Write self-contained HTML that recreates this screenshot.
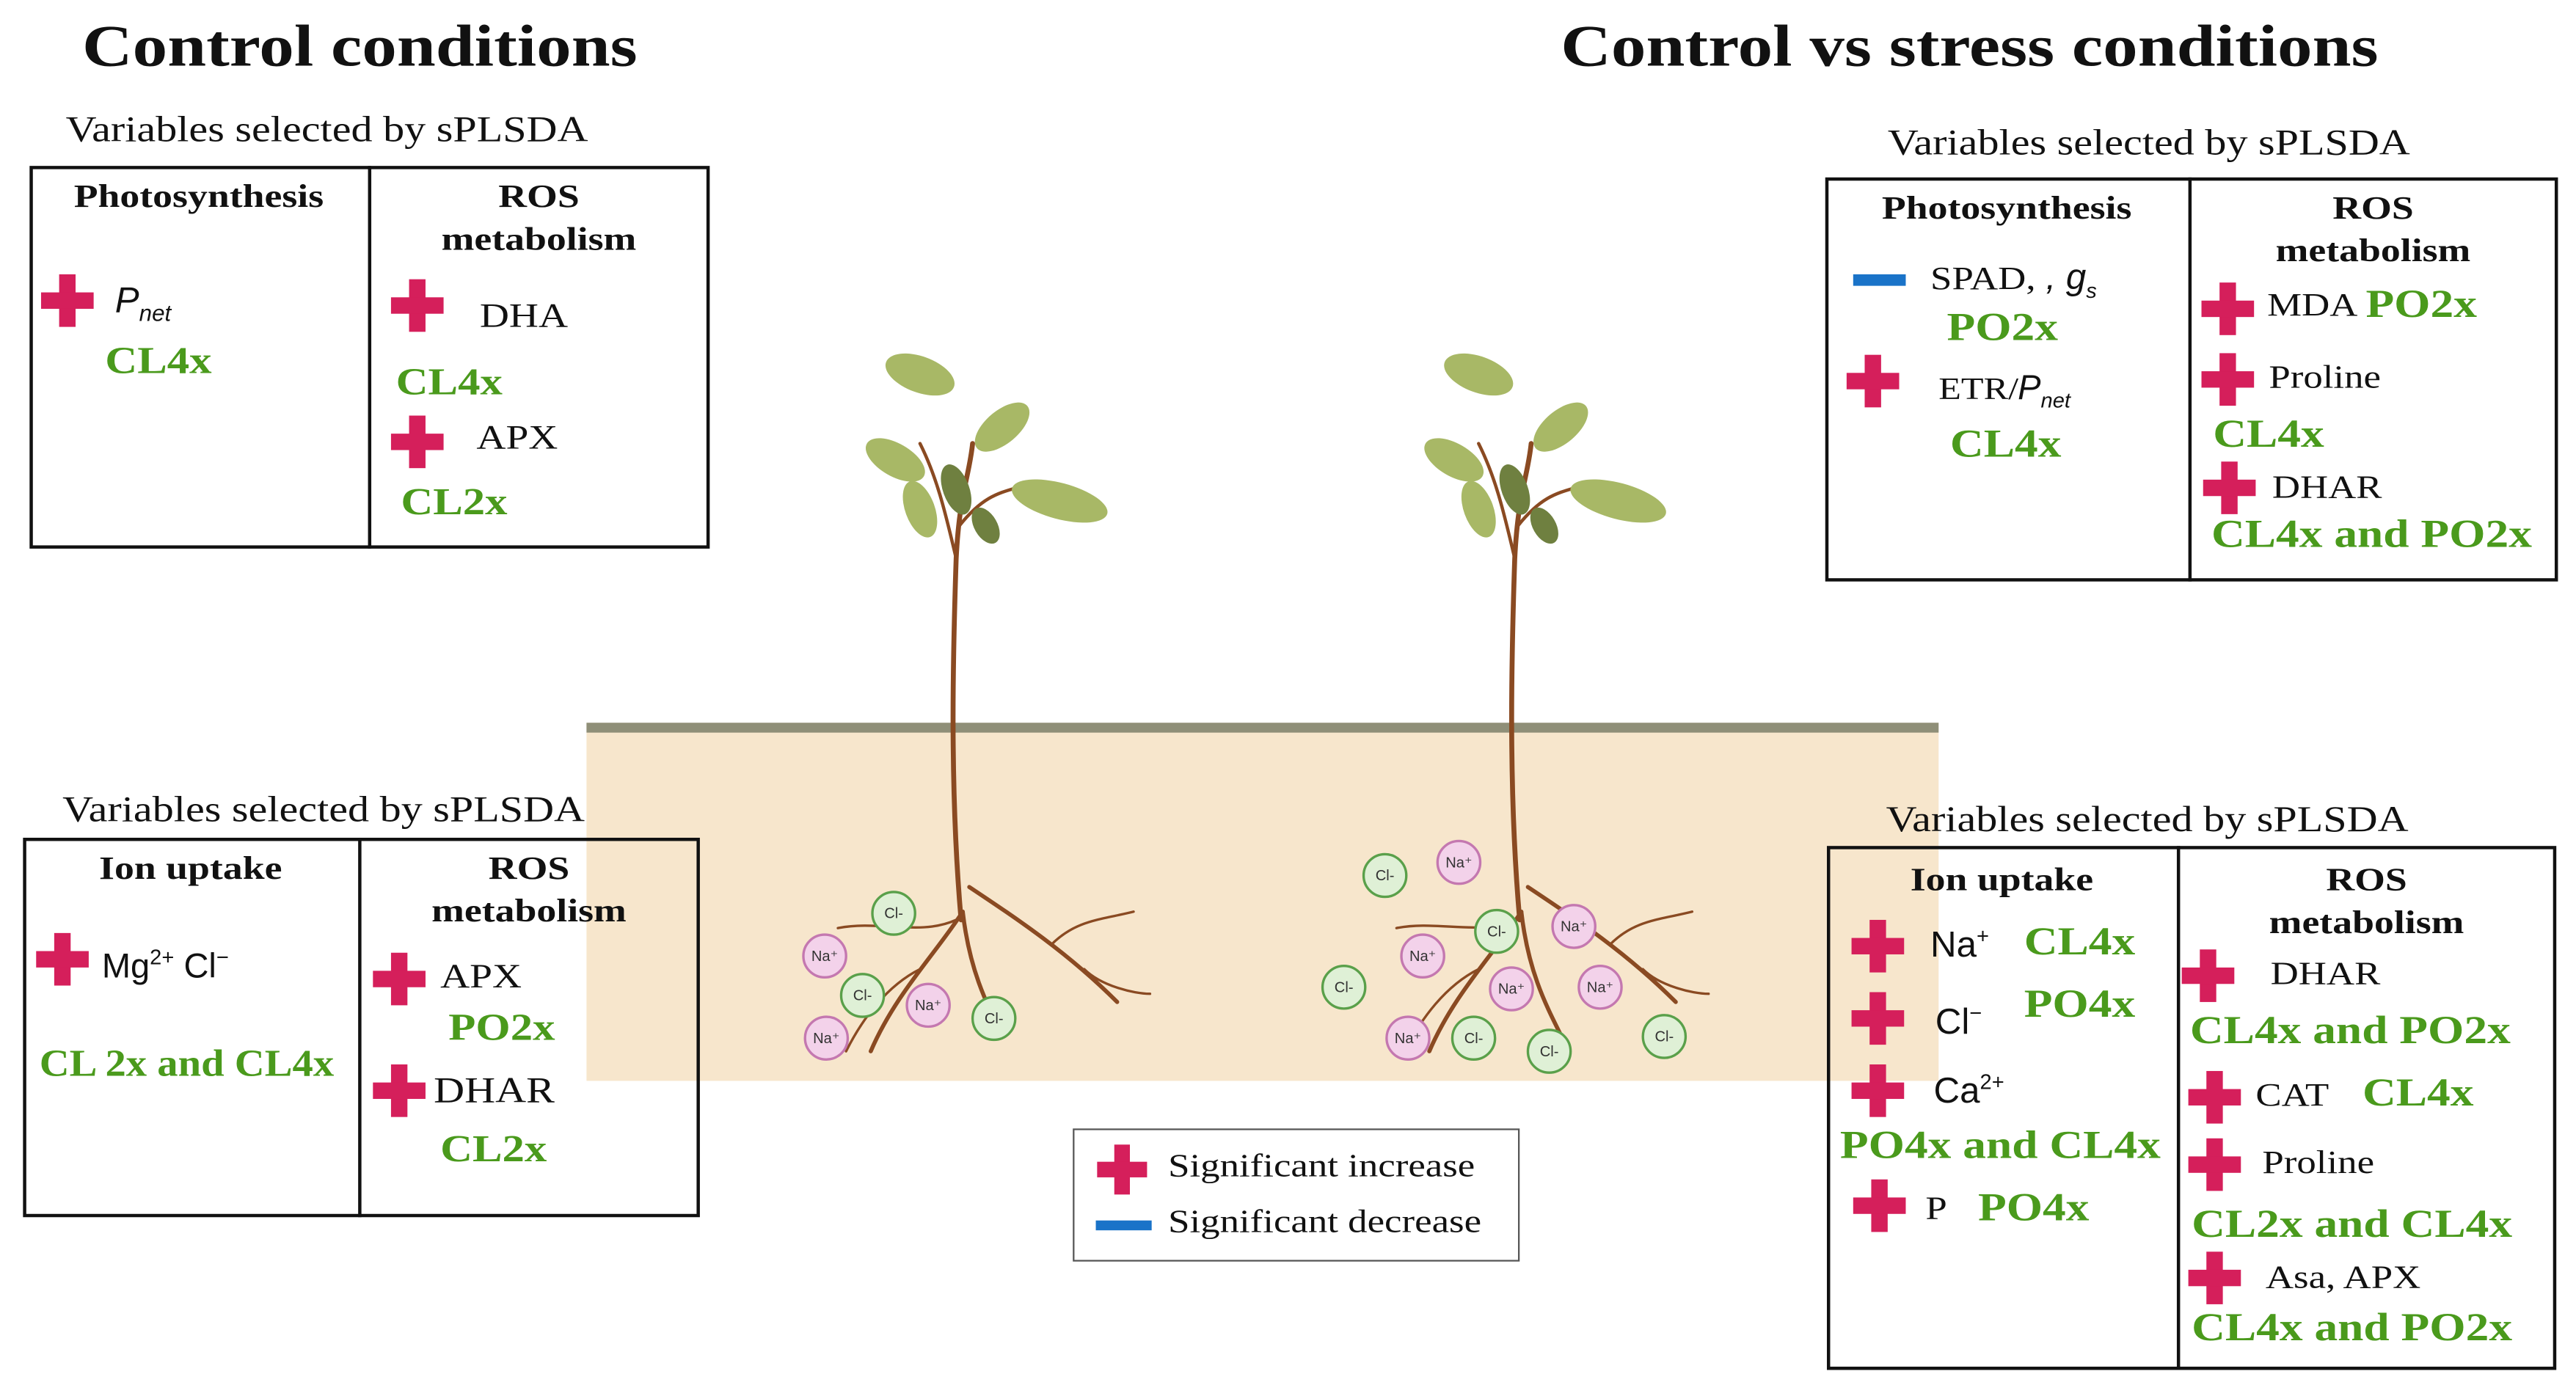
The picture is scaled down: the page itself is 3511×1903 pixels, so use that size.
<!DOCTYPE html>
<html><head><meta charset="utf-8"><style>
html,body{margin:0;padding:0;background:#fff;width:3511px;height:1902px;overflow:hidden}
#w{position:absolute;left:0;top:0;width:1568px;height:850px;transform:scale(2.2392);transform-origin:0 0;font-family:"Liberation Serif",serif;color:#111}
.t{position:absolute;white-space:nowrap;line-height:1;transform:scaleX(1.18);transform-origin:0 0}
.n{transform:none}
.h{font-weight:bold;font-size:36px}
.l{font-size:22px}
.b{position:absolute;border:2px solid #111;box-sizing:border-box}
.d{position:absolute;width:2px;background:#111}
.hd{position:absolute;font-weight:bold;font-size:20px;text-align:center;line-height:26px;transform:scaleX(1.2)}
.g{color:#4a9a1c;font-weight:bold;font-size:23px}
.s{font-family:"Liberation Sans",sans-serif;font-size:21px;transform:none}
.p{position:absolute;width:32px;height:32px}
.p:before{content:"";position:absolute;left:11px;top:0;width:10px;height:32px;background:#d51f5b}
.p:after{content:"";position:absolute;left:0;top:11px;width:32px;height:10px;background:#d51f5b}
.m{position:absolute;height:7px;background:#1a73c8}
</style></head><body><div id="w">
<!-- soil -->
<div style="position:absolute;left:357px;top:440px;width:823px;height:218px;background:#f7e6cc"></div>
<div style="position:absolute;left:357px;top:440px;width:823px;height:6px;background:#8f8f78"></div>

<div class="t h" style="left:50px;top:10px">Control conditions</div>
<div class="t h" style="left:950px;top:10px">Control vs stress conditions</div>
<div class="t l" style="left:40px;top:68px">Variables selected by sPLSDA</div>
<div class="t l" style="left:1149px;top:76px">Variables selected by sPLSDA</div>
<div class="t l" style="left:38px;top:482px">Variables selected by sPLSDA</div>
<div class="t l" style="left:1148px;top:488px">Variables selected by sPLSDA</div>

<svg style="position:absolute;left:0;top:0" width="1568" height="850" viewBox="0 0 1568 850">
<g id="pl" fill="none" stroke="#8a4a22" stroke-linecap="round">
<path d="M585 560 C578 480 580 400 582 340 C584 300 590 290 592 270" stroke-width="3"/>
<path d="M582 340 C575 310 570 290 560 270" stroke-width="2"/>
<path d="M584 320 C600 300 610 300 625 295" stroke-width="2"/>
<path d="M586 555 C570 580 545 605 530 640" stroke-width="2.5"/>
<path d="M586 555 C590 590 600 610 610 630" stroke-width="2.5"/>
<path d="M590 540 C620 560 650 580 680 610" stroke-width="2.5"/>
<path d="M582 560 C560 570 535 560 510 565" stroke-width="1.5"/>
<path d="M640 575 C655 560 670 560 690 555" stroke-width="1.5"/>
<path d="M660 590 C670 600 690 605 700 605" stroke-width="1.5"/>
<path d="M560 590 C540 600 525 620 515 640" stroke-width="1.5"/>
</g>
<use href="#pl" x="340" y="0"/>
<g id="lv" fill="#a8b866">
<ellipse cx="560" cy="228" rx="22" ry="11" transform="rotate(20 560 228)"/>
<ellipse cx="610" cy="260" rx="20" ry="10" transform="rotate(-40 610 260)"/>
<ellipse cx="545" cy="280" rx="20" ry="10" transform="rotate(30 545 280)"/>
<ellipse cx="560" cy="310" rx="18" ry="9" transform="rotate(70 560 310)"/>
<ellipse cx="645" cy="305" rx="30" ry="11" transform="rotate(15 645 305)"/>
<ellipse cx="582" cy="298" rx="16" ry="8" fill="#6f8040" transform="rotate(70 582 298)"/>
<ellipse cx="600" cy="320" rx="12" ry="7" fill="#6f8040" transform="rotate(60 600 320)"/>
</g>
<use href="#lv" x="340" y="0"/>
<g font-family="Liberation Sans,sans-serif" font-size="9" text-anchor="middle" stroke-width="1.5">
<g fill="#dff0d6" stroke="#5aa04a">
<circle cx="544" cy="556" r="13"/><circle cx="525" cy="606" r="13"/><circle cx="605" cy="620" r="13"/>
<circle cx="843" cy="533" r="13"/><circle cx="911" cy="567" r="13"/><circle cx="818" cy="601" r="13"/>
<circle cx="897" cy="632" r="13"/><circle cx="943" cy="640" r="13"/><circle cx="1013" cy="631" r="13"/>
</g>
<g fill="#f3d2ea" stroke="#c478b0">
<circle cx="502" cy="582" r="13"/><circle cx="565" cy="612" r="13"/><circle cx="503" cy="632" r="13"/>
<circle cx="888" cy="525" r="13"/><circle cx="958" cy="564" r="13"/><circle cx="866" cy="582" r="13"/>
<circle cx="920" cy="602" r="13"/><circle cx="974" cy="601" r="13"/><circle cx="857" cy="632" r="13"/>
</g>
<g fill="#333">
<text x="544" y="559">Cl-</text><text x="525" y="609">Cl-</text><text x="605" y="623">Cl-</text>
<text x="843" y="536">Cl-</text><text x="911" y="570">Cl-</text><text x="818" y="604">Cl-</text>
<text x="897" y="635">Cl-</text><text x="943" y="643">Cl-</text><text x="1013" y="634">Cl-</text>
<text x="502" y="585">Na⁺</text><text x="565" y="615">Na⁺</text><text x="503" y="635">Na⁺</text>
<text x="888" y="528">Na⁺</text><text x="958" y="567">Na⁺</text><text x="866" y="585">Na⁺</text>
<text x="920" y="605">Na⁺</text><text x="974" y="604">Na⁺</text><text x="857" y="635">Na⁺</text>
</g></g>
</svg>

<!-- Box1 -->
<div class="b" style="left:18px;top:101px;width:414px;height:233px"></div>
<div class="d" style="left:224px;top:101px;height:233px"></div>
<div class="hd" style="left:18px;top:107px;width:206px">Photosynthesis</div>
<div class="hd" style="left:225px;top:107px;width:206px">ROS<br>metabolism</div>
<div class="p" style="left:25px;top:167px"></div>
<div class="t n" style="left:70px;top:172px;font-family:'Liberation Sans',sans-serif;font-style:italic;font-size:22px">P<sub style="font-size:14px">net</sub></div>
<div class="t g" style="left:64px;top:208px">CL4x</div>
<div class="p" style="left:238px;top:170px"></div>
<div class="t" style="left:292px;top:182px;font-size:21px">DHA</div>
<div class="t g" style="left:241px;top:221px">CL4x</div>
<div class="p" style="left:238px;top:253px"></div>
<div class="t" style="left:290px;top:256px;font-size:21px">APX</div>
<div class="t g" style="left:244px;top:294px">CL2x</div>

<!-- Box2 -->
<div class="b" style="left:14px;top:510px;width:412px;height:231px"></div>
<div class="d" style="left:218px;top:510px;height:231px"></div>
<div class="hd" style="left:14px;top:516px;width:204px">Ion uptake</div>
<div class="hd" style="left:219px;top:516px;width:206px">ROS<br>metabolism</div>
<div class="p" style="left:22px;top:568px"></div>
<div class="t s" style="left:62px;top:576px">Mg<sup style="font-size:13px">2+</sup> Cl<sup style="font-size:13px">−</sup></div>
<div class="t g" style="left:24px;top:636px;transform:scaleX(1.1)">CL 2x and CL4x</div>
<div class="p" style="left:227px;top:580px"></div>
<div class="t" style="left:268px;top:584px;font-size:21px">APX</div>
<div class="t g" style="left:273px;top:614px">PO2x</div>
<div class="p" style="left:227px;top:648px"></div>
<div class="t" style="left:264px;top:653px;font-size:22px">DHAR</div>
<div class="t g" style="left:268px;top:688px">CL2x</div>

<!-- Box3 -->
<div class="b" style="left:1111px;top:108px;width:446px;height:246px"></div>
<div class="d" style="left:1332px;top:108px;height:246px"></div>
<div class="hd" style="left:1111px;top:114px;width:221px">Photosynthesis</div>
<div class="hd" style="left:1333px;top:114px;width:223px">ROS<br>metabolism</div>
<div class="m" style="left:1128px;top:167px;width:32px"></div>
<div class="t n" style="left:1175px;top:158px;font-size:20px"><span style="display:inline-block;transform:scaleX(1.18);transform-origin:0 0;margin-right:11px">SPAD,</span> <span style="font-family:'Liberation Sans',sans-serif;font-style:italic;font-size:22px">, g<sub style="font-size:13px">s</sub></span></div>
<div class="t g" style="left:1185px;top:188px;font-size:24px">PO2x</div>
<div class="p" style="left:1124px;top:216px"></div>
<div class="t n" style="left:1180px;top:226px;font-size:19px"><span style="display:inline-block;transform:scaleX(1.18);transform-origin:0 0;margin-right:7px">ETR/</span><span style="font-family:'Liberation Sans',sans-serif;font-style:italic;font-size:21px">P<sub style="font-size:13px">net</sub></span></div>
<div class="t g" style="left:1187px;top:259px;font-size:24px">CL4x</div>
<div class="p" style="left:1340px;top:172px"></div>
<div class="t" style="left:1380px;top:176px;font-size:20px">MDA</div>
<div class="t g" style="left:1440px;top:174px;font-size:24px">PO2x</div>
<div class="p" style="left:1340px;top:215px"></div>
<div class="t" style="left:1381px;top:220px;font-size:20px">Proline</div>
<div class="t g" style="left:1347px;top:253px;font-size:24px">CL4x</div>
<div class="p" style="left:1341px;top:281px"></div>
<div class="t" style="left:1383px;top:287px;font-size:20px">DHAR</div>
<div class="t g" style="left:1346px;top:314px;font-size:24px">CL4x and PO2x</div>

<!-- Box4 -->
<div class="b" style="left:1112px;top:515px;width:444px;height:319px"></div>
<div class="d" style="left:1325px;top:515px;height:319px"></div>
<div class="hd" style="left:1112px;top:523px;width:213px">Ion uptake</div>
<div class="hd" style="left:1326px;top:523px;width:229px">ROS<br>metabolism</div>
<div class="p" style="left:1127px;top:560px"></div>
<div class="t s" style="left:1175px;top:563px;font-size:22px">Na<sup style="font-size:13px">+</sup></div>
<div class="t g" style="left:1232px;top:562px;font-size:24px">CL4x</div>
<div class="p" style="left:1127px;top:604px"></div>
<div class="t s" style="left:1178px;top:610px;font-size:22px">Cl<sup style="font-size:13px">−</sup></div>
<div class="t g" style="left:1232px;top:600px;font-size:24px">PO4x</div>
<div class="p" style="left:1127px;top:648px"></div>
<div class="t s" style="left:1177px;top:652px;font-size:22px">Ca<sup style="font-size:13px">2+</sup></div>
<div class="t g" style="left:1120px;top:686px;font-size:24px">PO4x and CL4x</div>
<div class="p" style="left:1128px;top:718px"></div>
<div class="t" style="left:1172px;top:726px;font-size:20px">P</div>
<div class="t g" style="left:1204px;top:724px;font-size:24px">PO4x</div>
<div class="p" style="left:1328px;top:578px"></div>
<div class="t" style="left:1382px;top:583px;font-size:20px">DHAR</div>
<div class="t g" style="left:1333px;top:616px;font-size:24px">CL4x and PO2x</div>
<div class="p" style="left:1332px;top:652px"></div>
<div class="t" style="left:1373px;top:657px;font-size:20px">CAT</div>
<div class="t g" style="left:1438px;top:654px;font-size:24px">CL4x</div>
<div class="p" style="left:1332px;top:693px"></div>
<div class="t" style="left:1377px;top:698px;font-size:20px">Proline</div>
<div class="t g" style="left:1334px;top:734px;font-size:24px">CL2x and CL4x</div>
<div class="p" style="left:1332px;top:762px"></div>
<div class="t" style="left:1379px;top:768px;font-size:20px">Asa, APX</div>
<div class="t g" style="left:1334px;top:797px;font-size:24px">CL4x and PO2x</div>

<!-- Legend -->
<div style="position:absolute;left:653px;top:687px;width:272px;height:81px;border:1.5px solid #555;box-sizing:border-box;background:#fff"></div>
<div class="p" style="left:667px;top:696px;transform:scale(0.95)"></div>
<div class="t" style="left:711px;top:700px;font-size:20px">Significant increase</div>
<div class="m" style="left:667px;top:743px;width:34px;height:6px"></div>
<div class="t" style="left:711px;top:734px;font-size:20px">Significant decrease</div>
</div></body></html>
